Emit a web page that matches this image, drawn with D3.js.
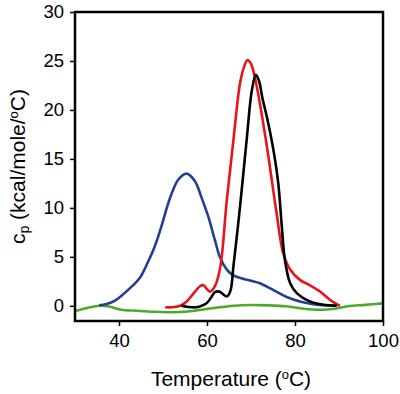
<!DOCTYPE html>
<html>
<head>
<meta charset="utf-8">
<script src="https://cdn.jsdelivr.net/npm/d3@7"></script>
<style>
  body { margin: 0; background: #fff; }
  svg text { font-family: "Liberation Sans", Arial, sans-serif; fill: #000; }
</style>
</head>
<body>
<div id="chart"></div>
<script>
// DSC traces, cp vs temperature

// === data ===
const blueT = [35.5, 37, 39, 40.5, 42.5, 44.8, 46.5, 47.8, 49, 50.1, 51, 52, 53.5, 55.4, 57.3, 58.8, 60.3, 61.8, 63, 64.5, 66, 68, 70, 72, 75.1, 78.1, 81.1, 84.2, 87.2, 89];
const blueCp = [0.05, 0.15, 0.5, 1.0, 1.8, 2.9, 4.4, 5.7, 7.2, 8.8, 10.2, 11.5, 12.9, 13.5, 12.7, 11.0, 9.1, 6.7, 4.9, 3.7, 3.1, 2.8, 2.55, 2.3, 1.6, 0.9, 0.45, 0.17, 0.05, 0.03];

const redT = [50.5, 52, 53.9, 55.5, 57, 58.4, 59.2, 60, 60.7, 61.8, 63, 64.5, 66, 67.5, 68.5, 69.2, 70, 71.3, 73.6, 75.8, 77.3, 78.9, 81.1, 83.4, 85.7, 88, 90.2];
const redCp = [-0.15, -0.15, 0, 0.5, 1.3, 2.0, 2.1, 1.7, 1.45, 2.0, 3.9, 10.8, 16.9, 22.7, 24.5, 25.1, 24.7, 22.4, 16.3, 9.5, 5.4, 3.7, 2.65, 2.1, 1.46, 0.6, 0];

const blackT = [54.2, 55.5, 57.6, 59, 60, 61, 61.8, 62.8, 63.6, 64.5, 65.3, 66, 67.5, 69, 70.2, 71.1, 71.8, 72.6, 73.6, 75.1, 76.2, 77, 77.7, 78.9, 80.4, 83.4, 86.4, 89.5];
const blackCp = [0, -0.1, -0.15, 0.05, 0.3, 0.9, 1.4, 1.45, 1.2, 0.95, 1.5, 4.0, 10.1, 16.9, 22, 23.6, 23.0, 21.2, 19.3, 15.9, 12.5, 8.1, 4.7, 2.3, 1.3, 0.45, 0.1, 0];

const greenT = [30, 33, 35.5, 38, 40.5, 44, 48, 52, 55, 58, 62, 66, 70, 74, 78, 82, 86, 89, 92, 96, 100];
const greenCp = [-0.55, -0.2, 0, -0.1, -0.4, -0.5, -0.6, -0.65, -0.6, -0.45, -0.2, 0, 0.08, 0.05, -0.05, -0.3, -0.4, -0.3, -0.05, 0.1, 0.25];

const xTicks = [40, 60, 80, 100];
const yTicks = [0, 5, 10, 15, 20, 25, 30];

const series = [
  { name: "green", color: "#4ea82a", T: greenT, cp: greenCp },
  { name: "blue",  color: "#233f94", T: blueT,  cp: blueCp },
  { name: "red",   color: "#e8141c", T: redT,   cp: redCp },
  { name: "black", color: "#000000", T: blackT, cp: blackCp }
];

// === sizing ===
const outerW = 400, outerH = 394;
const plotL = 75, plotR = 383, plotT = 12, plotB = 321;

const svg = d3.select("#chart").append("svg")
  .attr("width", outerW)
  .attr("height", outerH);

const x = d3.scaleLinear().domain([30, 100]).range([plotL, plotR]);
const y = d3.scaleLinear().domain([-1.55, 30]).range([plotB, plotT]);

// lines
const lineGen = d3.line()
  .x(d => x(d[0]))
  .y(d => y(d[1]))
  .curve(d3.curveCatmullRom.alpha(0.5));

svg.append("g").selectAll("path")
  .data(series)
  .join("path")
  .attr("fill", "none")
  .attr("stroke", d => d.color)
  .attr("stroke-width", 2.6)
  .attr("stroke-linejoin", "round")
  .attr("d", d => lineGen(d.T.map((t, i) => [t, d.cp[i]])));

// frame
svg.append("rect")
  .attr("x", plotL).attr("y", plotT)
  .attr("width", plotR - plotL).attr("height", plotB - plotT)
  .attr("fill", "none")
  .attr("stroke", "#000")
  .attr("stroke-width", 2.5);

// axes
const xAxis = svg.append("g")
  .attr("transform", `translate(0,${plotB})`)
  .call(d3.axisBottom(x).tickValues(xTicks).tickSize(5).tickSizeOuter(0).tickPadding(8));
const yAxis = svg.append("g")
  .attr("transform", `translate(${plotL},0)`)
  .call(d3.axisLeft(y).tickValues(yTicks).tickSize(5).tickSizeOuter(0).tickPadding(6));

[xAxis, yAxis].forEach(a => {
  a.select(".domain").remove();
  a.selectAll("line").attr("stroke", "#000").attr("stroke-width", 1.5);
  a.selectAll("text").attr("font-size", 18.5).attr("font-family", "Liberation Sans, Arial, sans-serif");
});

// axis titles
const xt = svg.append("text")
  .attr("x", (plotL + plotR) / 2 + 2).attr("y", 386)
  .attr("text-anchor", "middle")
  .attr("font-size", 21);
xt.append("tspan").text("Temperature (");
xt.append("tspan").attr("font-size", 13).attr("baseline-shift", "7").text("o");
xt.append("tspan").text("C)");

const yt = svg.append("text")
  .attr("transform", `translate(25,${(plotT + plotB) / 2}) rotate(-90)`)
  .attr("text-anchor", "middle")
  .attr("font-size", 21);
yt.append("tspan").text("c");
yt.append("tspan").attr("font-size", 14).attr("baseline-shift", "-4").text("p");
yt.append("tspan").text(" (kcal/mole/");
yt.append("tspan").attr("font-size", 13).attr("baseline-shift", "7").text("o");
yt.append("tspan").text("C)");
</script>
</body>
</html>
